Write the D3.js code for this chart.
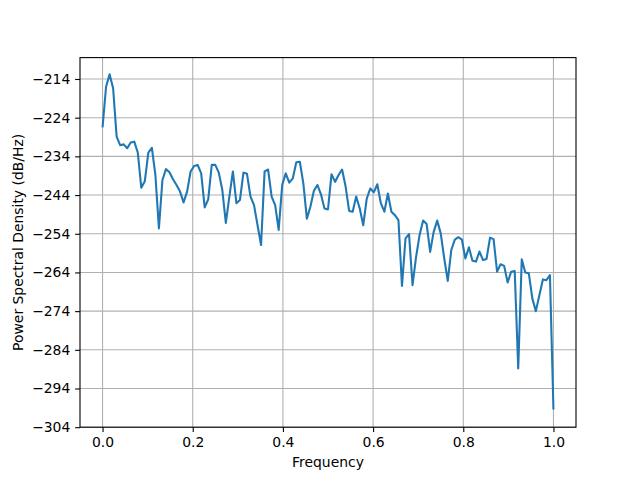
<!DOCTYPE html>
<html><head><meta charset="utf-8">
<script src="https://cdn.jsdelivr.net/npm/d3@7"></script>
<style>body{margin:0;background:#fff}svg{display:block}text{font-family:"DejaVu Sans",sans-serif}</style>
</head><body>
<script>
const psdValues = [-226.5,-216.0,-212.8,-216.4,-228.9,-231.1,-230.9,-231.9,-230.4,-230.2,
-233.0,-242.1,-240.4,-233.0,-231.8,-238.8,-252.6,-240.1,-237.3,-238.1,
-239.9,-241.4,-243.1,-245.9,-243.1,-237.9,-236.5,-236.2,-238.4,-247.2,
-245.1,-236.2,-236.2,-238.2,-242.7,-251.2,-244.4,-237.9,-246.1,-245.3,
-238.2,-238.5,-244.4,-246.6,-251.8,-256.9,-237.9,-237.4,-244.4,-246.6,
-253.0,-241.4,-238.4,-240.8,-239.7,-235.5,-235.4,-241.0,-250.1,-247.0,
-242.9,-241.4,-243.8,-247.5,-247.7,-238.6,-240.6,-238.8,-237.4,-241.8,
-248.1,-248.3,-244.4,-247.4,-251.8,-244.9,-242.3,-243.3,-241.2,-246.1,
-248.3,-243.6,-248.3,-249.2,-250.5,-267.5,-255.2,-254.1,-267.3,-260.0,
-254.3,-250.6,-251.5,-258.7,-253.5,-250.6,-253.9,-260.4,-266.2,-258.2,
-255.5,-254.9,-255.5,-260.4,-257.5,-261.0,-261.2,-258.6,-260.8,-260.5,
-255.0,-255.4,-263.8,-261.9,-262.3,-266.6,-263.8,-263.6,-288.8,-260.6,
-264.0,-264.2,-270.7,-274.0,-269.9,-265.8,-266.0,-264.7,-299.4];
// FFT frequency bins (evenly spaced from 0 to 1)
const freqs = psdValues.map((_, i) => i / (psdValues.length - 1));
const xTicks = [0.0, 0.2, 0.4, 0.6, 0.8, 1.0];
const yTicks = [-214, -224, -234, -244, -254, -264, -274, -284, -294, -304];
const xLabel = "Frequency";
const yLabel = "Power Spectral Density (dB/Hz)";

const W = 640, H = 480;
const L = 80, R = 576, T = 57.6, B = 427.2;
const svg = d3.select("body").append("svg").attr("width", W).attr("height", H);
const x = d3.scaleLinear().domain([-0.05, 1.05]).range([L, R]);
const y = d3.scaleLinear().domain([-304, -208.47]).range([B, T]);
const fs = 13.9;
const fmtMinus = v => String(v).replace("-", "\u2212");

// grid
const g = svg.append("g");
g.selectAll(".gx").data(xTicks).enter().append("line")
  .attr("x1", d => x(d)).attr("x2", d => x(d)).attr("y1", T).attr("y2", B)
  .attr("stroke", "#b0b0b0").attr("stroke-width", 1.1);
g.selectAll(".gy").data(yTicks).enter().append("line")
  .attr("y1", d => y(d)).attr("y2", d => y(d)).attr("x1", L).attr("x2", R)
  .attr("stroke", "#b0b0b0").attr("stroke-width", 1.1);

// line
const line = d3.line().x((d, i) => x(freqs[i])).y(d => y(d));
svg.append("path").datum(psdValues).attr("d", line)
  .attr("fill", "none").attr("stroke", "#1f77b4").attr("stroke-width", 2.08)
  .attr("stroke-linejoin", "round").attr("stroke-linecap", "butt");

// axes
const xAxis = d3.axisBottom(x).tickValues(xTicks).tickFormat(d => d.toFixed(1)).tickSizeOuter(0).tickSize(4.86).tickPadding(4.86);
const yAxis = d3.axisLeft(y).tickValues(yTicks).tickFormat(fmtMinus).tickSizeOuter(0).tickSize(4.86).tickPadding(4.86);
const ax = svg.append("g").attr("transform", `translate(0,${B})`).call(xAxis);
const ay = svg.append("g").attr("transform", `translate(${L},0)`).call(yAxis);
[ax, ay].forEach(a => {
  a.select(".domain").remove();
  a.selectAll("line").attr("stroke", "#000").attr("stroke-width", 1.1);
  a.selectAll("text").attr("font-size", fs).attr("fill", "#000").attr("font-family", "DejaVu Sans");
});
// spines
svg.append("rect").attr("x", L).attr("y", T).attr("width", R - L).attr("height", B - T)
  .attr("fill", "none").attr("stroke", "#000").attr("stroke-width", 1.1);

svg.append("text").attr("x", (L + R) / 2).attr("y", 467).attr("text-anchor", "middle")
  .attr("font-size", fs).text(xLabel);
svg.append("text").attr("transform", `translate(23,${(T + B) / 2}) rotate(-90)`)
  .attr("text-anchor", "middle").attr("font-size", fs).text(yLabel);
</script>
</body></html>
